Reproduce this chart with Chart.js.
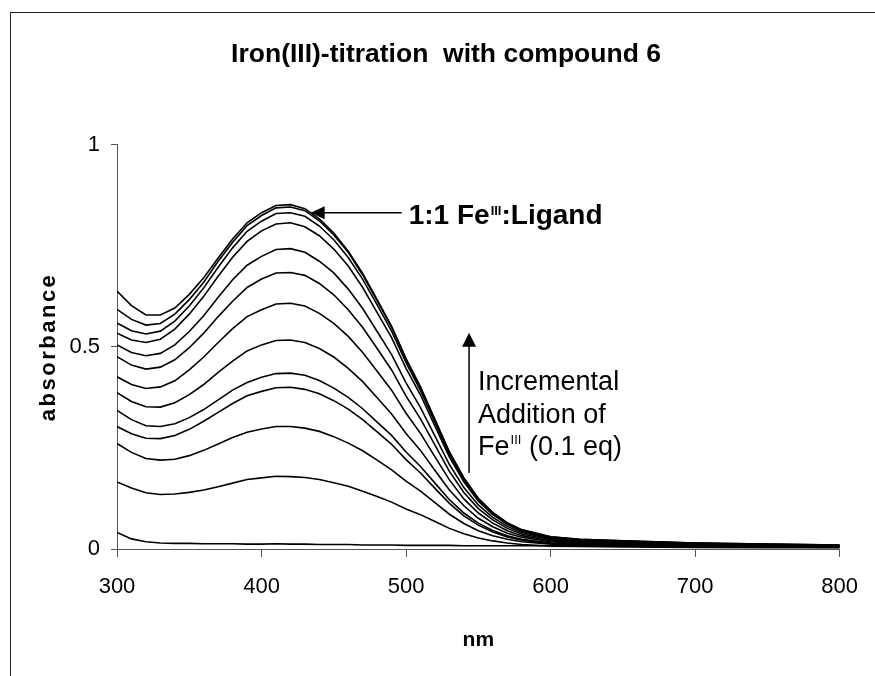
<!DOCTYPE html>
<html>
<head>
<meta charset="utf-8">
<title>Iron(III)-titration with compound 6</title>
<script src="https://cdn.jsdelivr.net/npm/chart.js@4.4.0/dist/chart.umd.min.js"></script>
<style>
  body { margin: 0; background: #fff; overflow: hidden; }
  #frame { position: absolute; left: 10px; top: 12px; width: 1000px; height: 1000px;
           border-left: 1px solid #222; border-top: 1px solid #222; }
  #chart { position: absolute; left: 0; top: 0; }
</style>
</head>
<body>
<div id="frame"></div>
<canvas id="chart" width="875" height="676"></canvas>
<script>
var chartTitle = 'Iron(III)-titration  with compound 6';
var xTitle = 'nm';
var yTitle = 'absorbance';
var xTicks = [300, 400, 500, 600, 700, 800];
var yTicks = [0, 0.5, 1];

var wavelengths = [300,310,320,330,340,350,360,370,380,390,400,410,420,430,440,450,460,470,480,490,
                   500,510,520,530,540,550,560,570,580,600,620,650,700,750,800];

// one spectrum per addition of Fe(III), highest first
var abs1  = [.638,.602,.579,.579,.596,.630,.671,.720,.767,.807,.832,.850,.852,.842,.817,.782,.737,.682,.617,.551,.471,.401,.320,.240,.176,.125,.090,.065,.048,.030,.024,.020,.015,.012,.010];
var abs2  = [.593,.568,.554,.558,.581,.617,.660,.712,.759,.800,.825,.844,.846,.837,.812,.777,.734,.678,.614,.549,.469,.399,.319,.239,.175,.125,.090,.064,.047,.030,.024,.020,.015,.012,.010];
var abs3  = [.559,.540,.532,.539,.564,.601,.646,.697,.745,.786,.811,.830,.832,.823,.799,.765,.721,.667,.604,.539,.461,.392,.313,.234,.171,.122,.088,.062,.046,.028,.022,.019,.014,.011,.009];
var abs4  = [.534,.517,.511,.519,.544,.581,.625,.675,.722,.761,.787,.804,.807,.797,.775,.742,.700,.647,.585,.523,.447,.381,.304,.227,.166,.118,.085,.061,.044,.027,.022,.018,.014,.010,.009];
var abs5  = [.505,.486,.478,.484,.505,.538,.577,.623,.666,.702,.724,.741,.743,.734,.712,.683,.643,.595,.538,.481,.411,.350,.279,.209,.152,.109,.078,.056,.041,.025,.020,.017,.012,.009,.008];
var abs6  = [.476,.455,.445,.450,.468,.498,.534,.575,.613,.647,.668,.683,.684,.677,.657,.629,.592,.548,.496,.443,.378,.322,.257,.192,.140,.100,.072,.051,.037,.023,.018,.015,.011,.009,.007];
var abs7  = [.426,.407,.397,.401,.416,.443,.475,.511,.545,.575,.592,.606,.608,.601,.583,.558,.526,.486,.440,.393,.336,.286,.228,.171,.124,.089,.064,.045,.033,.020,.016,.014,.010,.008,.006];
var abs8  = [.387,.365,.352,.351,.362,.382,.407,.437,.465,.490,.505,.516,.517,.511,.496,.475,.447,.414,.374,.334,.286,.244,.194,.146,.107,.076,.055,.039,.029,.018,.014,.012,.009,.007,.006];
var abs9  = [.343,.320,.305,.303,.310,.325,.345,.369,.393,.412,.425,.434,.435,.430,.417,.398,.375,.347,.314,.281,.240,.204,.163,.122,.089,.064,.046,.033,.024,.015,.012,.010,.008,.006,.005];
var abs10 = [.303,.285,.274,.273,.281,.296,.316,.338,.360,.379,.390,.399,.400,.395,.384,.367,.346,.320,.290,.259,.221,.188,.150,.113,.082,.059,.042,.030,.022,.014,.011,.010,.007,.006,.005];
var abs11 = [.261,.239,.224,.220,.222,.231,.244,.260,.276,.289,.297,.303,.303,.299,.291,.278,.262,.243,.220,.196,.168,.143,.115,.086,.063,.045,.033,.024,.018,.012,.009,.008,.006,.005,.004];
var abs12 = [.166,.151,.139,.135,.136,.140,.146,.154,.163,.172,.176,.180,.179,.177,.172,.164,.155,.143,.130,.116,.099,.085,.068,.051,.038,.027,.020,.015,.011,.007,.006,.005,.004,.003,.003];
var abs13 = [.041,.025,.018,.015,.014,.014,.013,.013,.013,.012,.012,.013,.012,.012,.011,.011,.011,.010,.010,.010,.009,.009,.009,.009,.008,.008,.008,.008,.008,.008,.007,.007,.007,.006,.006];

var spectra = [abs1, abs2, abs3, abs4, abs5, abs6, abs7, abs8, abs9, abs10, abs11, abs12, abs13];

// annotation anchors, in data units (nm, absorbance)
var peakArrowTip = [434, 0.832];
var peakArrowTail = [497, 0.832];
var addArrowBottom = [543.6, 0.188];
var addArrowTop = [543.6, 0.535];

var sans = '"Liberation Sans", Arial, sans-serif';

var datasets = spectra.map(function (arr, k) {
    return {
        label: 'spectrum ' + (k + 1),
        data: wavelengths.map(function (w, i) { return { x: w, y: arr[i] }; }),
        borderColor: '#000',
        borderWidth: 1.6,
        pointRadius: 0,
        tension: 0,
        fill: false
    };
});

function arrowHead(ctx, x, y, dir) {
    // dir: 'left' or 'up'
    ctx.beginPath();
    if (dir === 'left') {
        ctx.moveTo(x, y); ctx.lineTo(x + 14, y - 6.5); ctx.lineTo(x + 14, y + 6.5);
    } else {
        ctx.moveTo(x, y); ctx.lineTo(x - 7, y + 14); ctx.lineTo(x + 7, y + 14);
    }
    ctx.closePath();
    ctx.fill();
}

var notes = {
    id: 'notes',
    afterDraw: function (chart) {
        var ctx = chart.ctx, xs = chart.scales.x, ys = chart.scales.y;
        ctx.save();
        ctx.fillStyle = '#000';
        ctx.strokeStyle = '#000';

        // y axis title, spaced out letters
        ctx.save();
        ctx.translate(49, (ys.top + ys.bottom) / 2);
        ctx.rotate(-Math.PI / 2);
        ctx.font = 'bold 22px ' + sans;
        ctx.letterSpacing = '2.5px';
        ctx.textAlign = 'center';
        ctx.textBaseline = 'middle';
        ctx.fillText(yTitle, 0, 0);
        ctx.restore();

        // 1:1 arrow
        var tx = xs.getPixelForValue(peakArrowTip[0]), ty = ys.getPixelForValue(peakArrowTip[1]);
        var ex = xs.getPixelForValue(peakArrowTail[0]);
        ctx.lineWidth = 1.5;
        ctx.beginPath(); ctx.moveTo(tx + 10, ty); ctx.lineTo(ex, ty); ctx.stroke();
        arrowHead(ctx, tx, ty, 'left');

        ctx.textAlign = 'left';
        ctx.textBaseline = 'alphabetic';
        var x0 = ex + 7, base = ty + 11;
        ctx.font = 'bold 28px ' + sans;
        ctx.fillText('1:1 Fe', x0, base);
        x0 += ctx.measureText('1:1 Fe').width + 1;
        ctx.font = 'bold 13px ' + sans;
        ctx.fillText('III', x0, base - 9);
        x0 += ctx.measureText('III').width;
        ctx.font = 'bold 28px ' + sans;
        ctx.fillText(':Ligand', x0, base);

        // incremental addition arrow
        var ax = xs.getPixelForValue(addArrowTop[0]);
        var ay1 = ys.getPixelForValue(addArrowBottom[1]), ay2 = ys.getPixelForValue(addArrowTop[1]);
        ctx.beginPath(); ctx.moveTo(ax, ay1); ctx.lineTo(ax, ay2 + 10); ctx.stroke();
        arrowHead(ctx, ax, ay2, 'up');

        var lx = ax + 9;
        ctx.font = '27px ' + sans;
        ctx.fillText('Incremental', lx, ay2 + 57);
        ctx.fillText('Addition of', lx, ay2 + 90);
        var b3 = ay2 + 122;
        ctx.fillText('Fe', lx, b3);
        var px = lx + ctx.measureText('Fe').width + 1;
        ctx.font = '13px ' + sans;
        ctx.fillText('III', px, b3 - 11);
        px += ctx.measureText('III').width;
        ctx.font = '27px ' + sans;
        ctx.fillText(' (0.1 eq)', px, b3);

        ctx.restore();
    }
};

var ctx = document.getElementById('chart').getContext('2d');
var myChart = new Chart(ctx, {
    type: 'line',
    data: { datasets: datasets },
    options: {
        responsive: false,
        animation: false,
        devicePixelRatio: 1,
        layout: { padding: { top: 0, right: 31, bottom: 0, left: 48 } },
        plugins: {
            legend: { display: false },
            tooltip: { enabled: false },
            title: {
                display: true,
                text: chartTitle,
                color: '#000',
                font: { family: sans, size: 26.5, weight: 'bold', lineHeight: 1.2 },
                padding: { top: 39, bottom: 74 }
            }
        },
        scales: {
            x: {
                type: 'linear',
                min: xTicks[0],
                max: xTicks[xTicks.length - 1],
                afterBuildTicks: function (s) { s.ticks = xTicks.map(function (v) { return { value: v }; }); },
                afterFit: function (s) { s.height = 127; },
                grid: { display: true, drawOnChartArea: false, drawTicks: true, tickLength: 8, color: '#555', lineWidth: 1 },
                border: { display: true, color: '#555', width: 1 },
                ticks: { color: '#000', font: { family: sans, size: 22 }, padding: 17, maxRotation: 0,
                         callback: function (v) { return String(v); } },
                title: {
                    display: true, text: xTitle, color: '#000',
                    font: { family: sans, size: 21, weight: 'bold', lineHeight: 1.2 },
                    padding: { top: 0, bottom: 23 }
                }
            },
            y: {
                type: 'linear',
                min: yTicks[0],
                max: yTicks[yTicks.length - 1],
                afterBuildTicks: function (s) { s.ticks = yTicks.map(function (v) { return { value: v }; }); },
                afterFit: function (s) { s.width = 69; },
                grid: { display: true, drawOnChartArea: false, drawTicks: true, tickLength: 6, color: '#555', lineWidth: 1 },
                border: { display: true, color: '#555', width: 1 },
                ticks: { color: '#000', font: { family: sans, size: 22 }, padding: 11,
                         callback: function (v) { return String(v); } }
            }
        }
    },
    plugins: [notes]
});
</script>
</body>
</html>
